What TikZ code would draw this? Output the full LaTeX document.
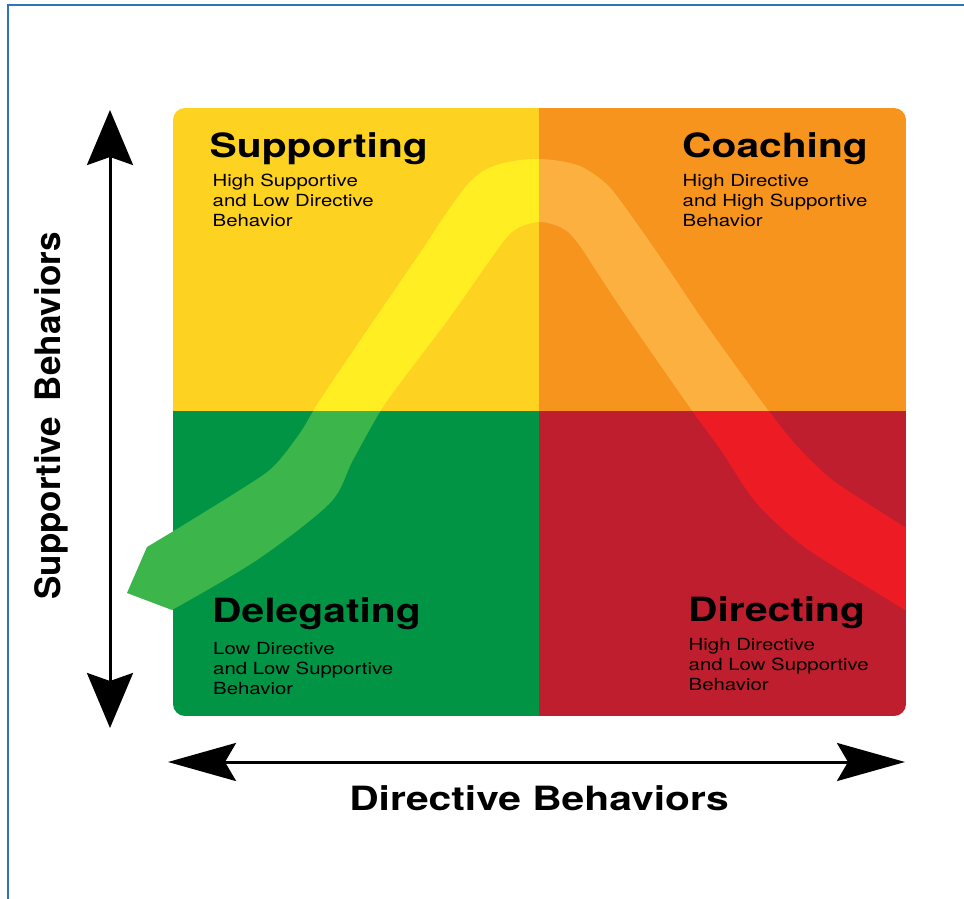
\documentclass[tikz,border=0pt]{standalone}
\usepackage{fontspec}
\setmainfont{TeX Gyre Heros}
\usetikzlibrary{arrows.meta}
\definecolor{qyellow}{HTML}{FDD221}
\definecolor{qorange}{HTML}{F7941D}
\definecolor{qgreen}{HTML}{009444}
\definecolor{qred}{HTML}{BE1E2D}
\definecolor{byellow}{HTML}{FFEF22}
\definecolor{borange}{HTML}{FBB040}
\definecolor{bgreen}{HTML}{3CB54A}
\definecolor{bred}{HTML}{ED1C24}
\definecolor{frameblue}{HTML}{2E75B6}
\newcommand{\hstretch}[1]{\scalebox{1.22}[1]{#1}}
\begin{document}
\begin{tikzpicture}[x=1pt,y=1pt,
  title/.style={anchor=base west, inner sep=0pt, font=\fontsize{33.4}{40}\selectfont\bfseries},
  sub/.style={anchor=base west, inner sep=0pt, font=\fontsize{16.7}{20}\selectfont},
  axisline/.style={line width=3pt, black},
]
\useasboundingbox (0,0) rectangle (964,-899);
\fill[white] (0,0) rectangle (964,-899);
\draw[frameblue, line width=1.8pt] (8,-899) -- (8,-5) -- (964,-5);

% quadrants
\begin{scope}
  \clip[rounded corners=12pt] (173,-108) rectangle (906,-716);
  \fill[qyellow] (173,-108) rectangle (539,-411);
  \fill[qorange] (539,-108) rectangle (906,-411);
  \fill[qgreen]  (173,-411) rectangle (539,-716);
  \fill[qred]    (539,-411) rectangle (906,-716);
\end{scope}

% band
\begin{scope}
  \clip (127,-593) -- (147,-547) -- plot[smooth, tension=0.5] coordinates {(172,-532) (240,-490) (273,-467) (300,-433) (320,-400) (370,-326) (420,-253) (445,-215) (467,-185) (483,-171) (500,-164) (520,-160) (540,-159) (560,-161) (580,-166) (598,-177) (613,-191) (640,-228) (667,-267) (700,-316) (735,-365) (768,-410) (797,-446) (830,-478) (867,-503) (905,-527) (925,-539)}
    -- plot[smooth, tension=0.5] coordinates {(925,-622) (905,-610) (813,-553) (775,-522) (750,-495) (722,-452) (693,-412) (656,-359) (620,-307) (597,-272) (580,-246) (568,-232) (555,-225) (540,-222) (525,-225) (512,-232) (500,-246) (483,-270) (450,-317) (416,-362) (383,-407) (353,-460) (330,-503) (257,-560) (172,-610)}
    -- cycle;
  \fill[byellow] (100,-100) rectangle (539,-411);
  \fill[borange] (539,-100) rectangle (906,-411);
  \fill[bgreen]  (100,-411) rectangle (539,-716);
  \fill[bred]    (539,-411) rectangle (906,-716);
\end{scope}

% quadrant texts
\node[title] (supT) at (209.5,-157) {\hstretch{Supporting}};
\node[sub] (supS) at (212.5,-186) {\hstretch{\begin{tabular}[t]{@{}l@{}}High Supportive\\and Low Directive\\Behavior\end{tabular}}};
\node[title] (coaT) at (682,-157) {\hstretch{Coaching}};
\node[sub] (coaS) at (682.5,-186) {\hstretch{\begin{tabular}[t]{@{}l@{}}High Directive\\and High Supportive\\Behavior\end{tabular}}};
\node[title] (delT) at (212,-622) {\hstretch{Delegating}};
\node[sub] (delS) at (213,-654) {\hstretch{\begin{tabular}[t]{@{}l@{}}Low Directive\\and Low Supportive\\Behavior\end{tabular}}};
\node[title] (dirT) at (688,-621) {\hstretch{Directing}};
\node[sub] (dirS) at (688.5,-650) {\hstretch{\begin{tabular}[t]{@{}l@{}}High Directive\\and Low Supportive\\Behavior\end{tabular}}};

% axes
\coordinate (vtop) at (110,-110);
\coordinate (vbot) at (110,-728);
\coordinate (hleft) at (168,-762);
\coordinate (hright) at (905,-762);
\draw[axisline, {Stealth[length=55pt,width=46pt,inset=8pt]}-{Stealth[length=55pt,width=46pt,inset=8pt]}] (vbot) -- (vtop);
\draw[axisline, {Stealth[length=68pt,width=38pt,inset=11pt]}-{Stealth[length=68pt,width=38pt,inset=11pt]}] (hleft) -- (hright);

\node[anchor=base, inner sep=0pt, font=\fontsize{33.4}{40}\selectfont\bfseries] (xlab) at (539,-810) {\hstretch{Directive Behaviors}};
\node[anchor=base, rotate=90, inner sep=0pt, font=\fontsize{35}{42}\selectfont\bfseries] (ylab) at (60,-416) {Supportive\hspace{0.45em}Behaviors};
\end{tikzpicture}
\end{document}
